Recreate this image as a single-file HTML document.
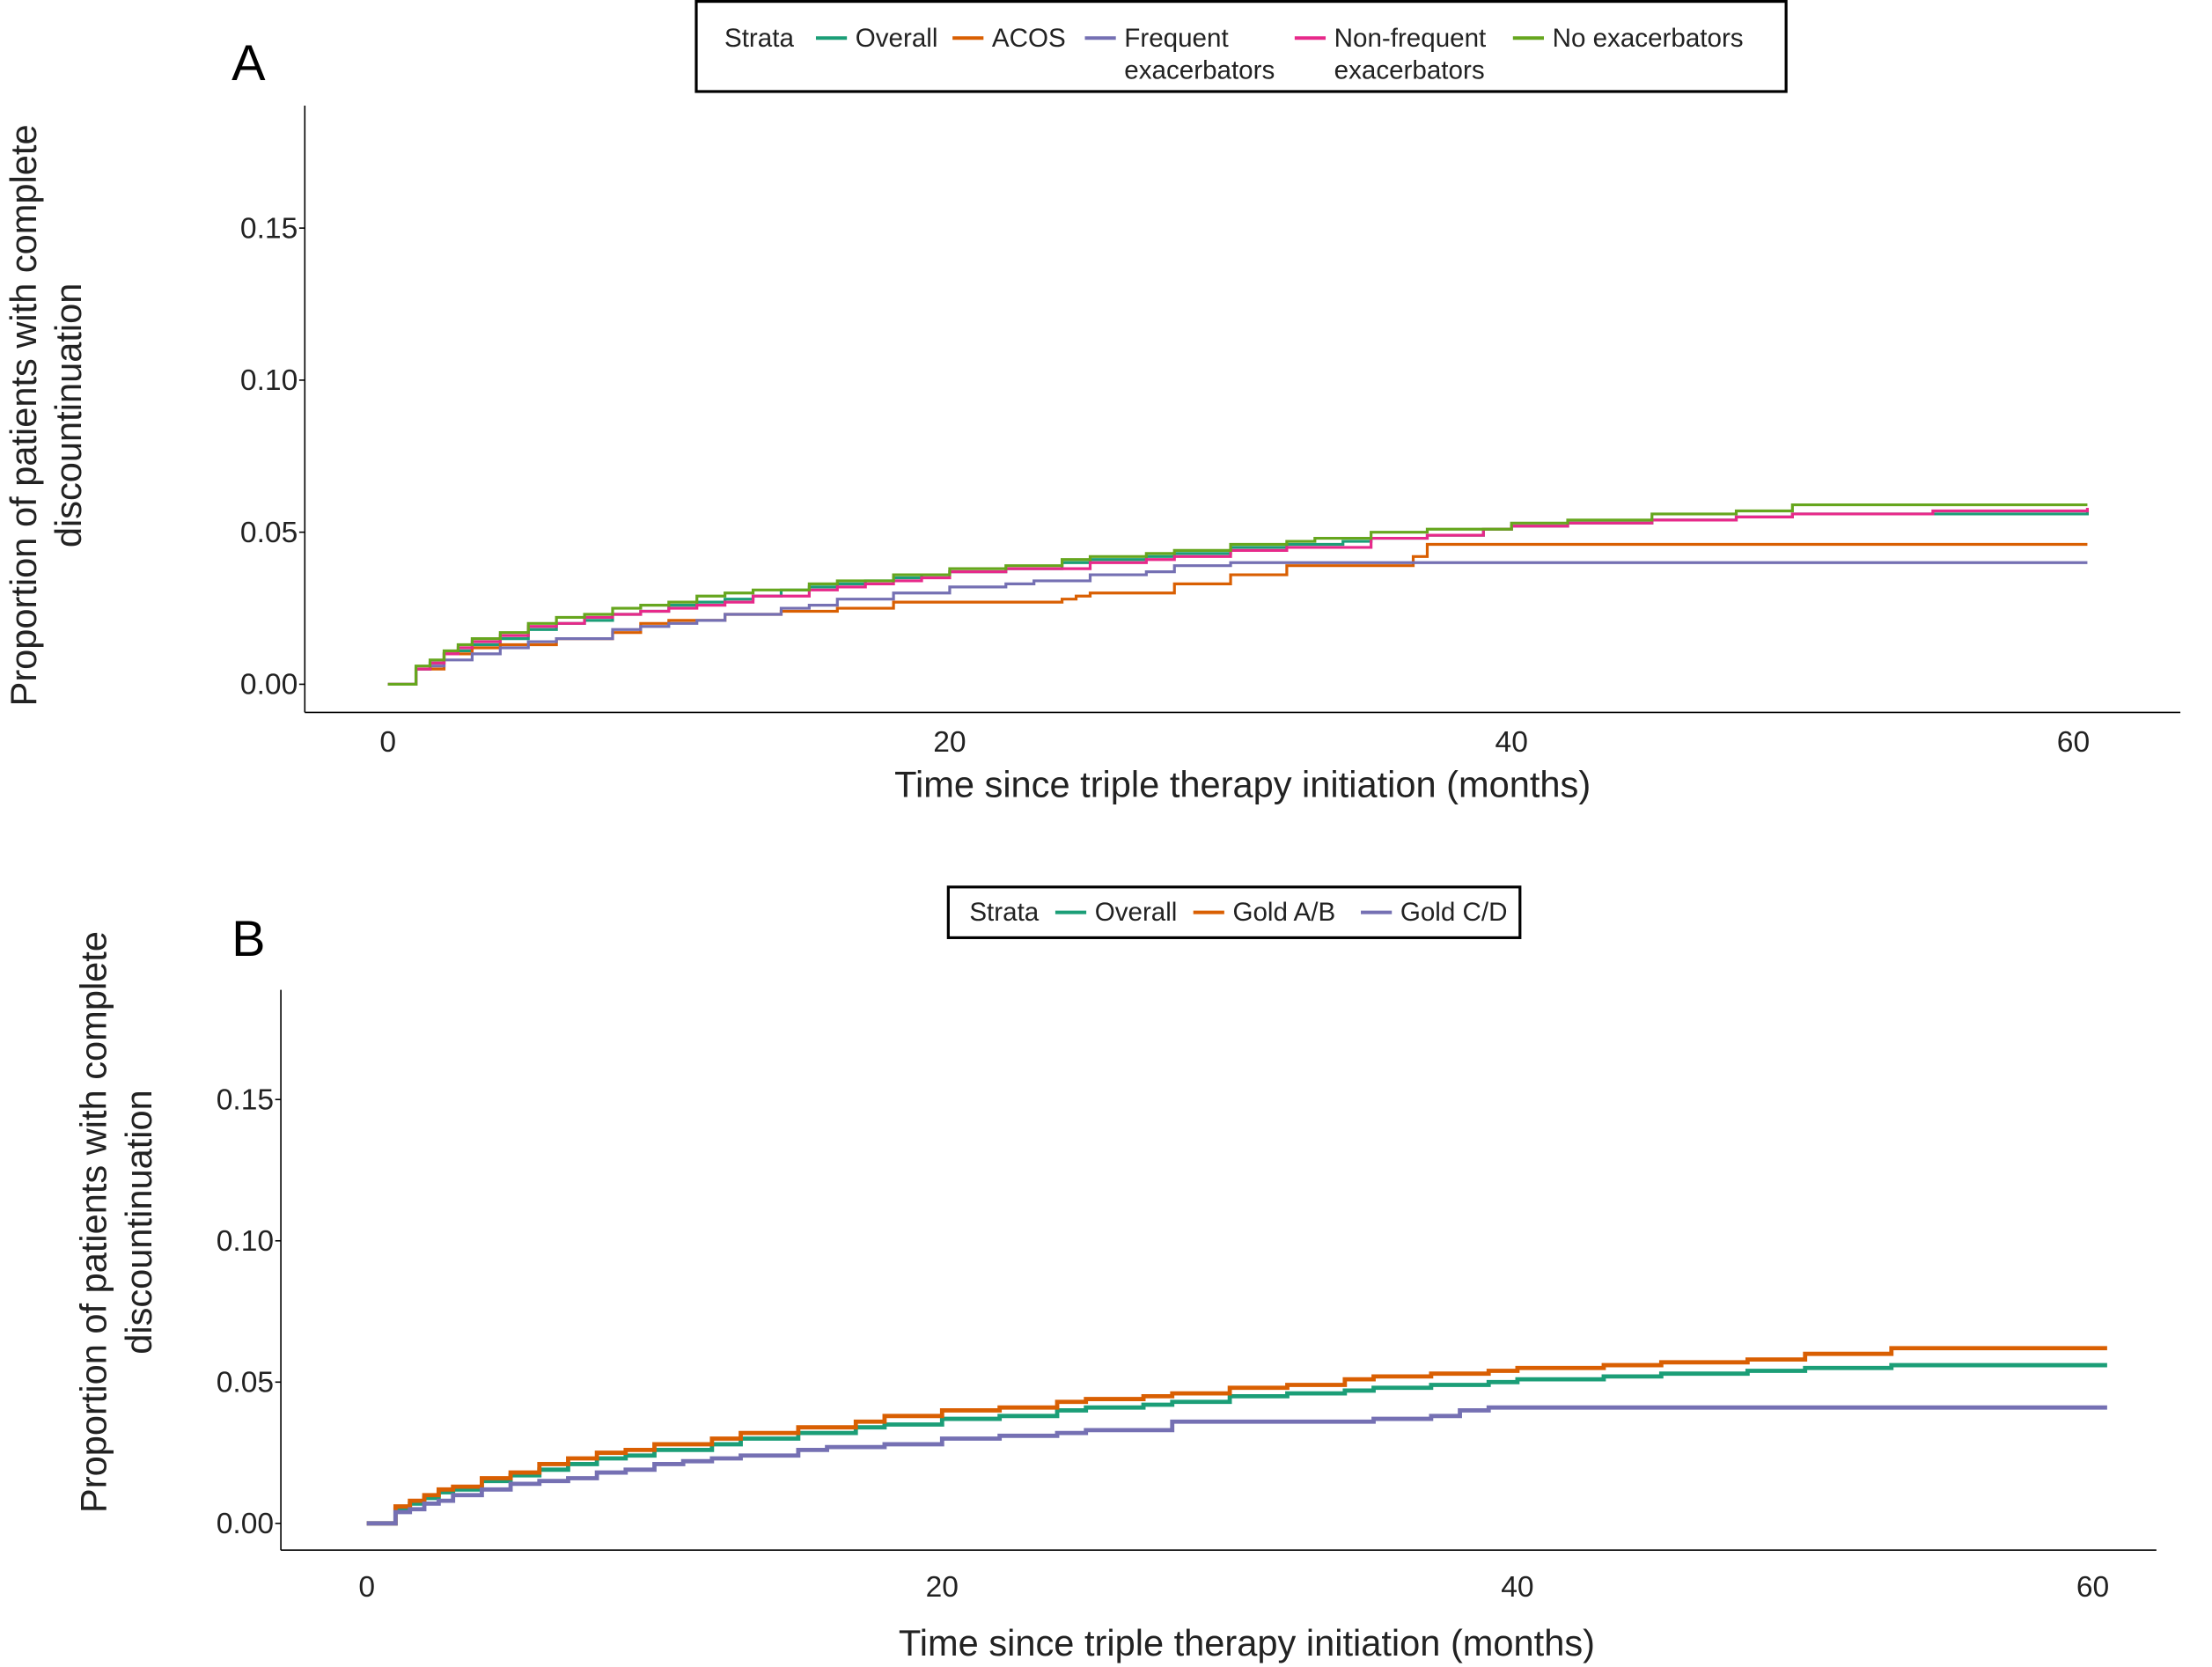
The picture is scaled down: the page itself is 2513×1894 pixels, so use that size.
<!DOCTYPE html>
<html><head><meta charset="utf-8"><style>
html,body{margin:0;padding:0;background:#fff;}
svg{display:block;font-family:"Liberation Sans",Arial,sans-serif;}
</style></head><body>
<svg id="chart" width="2513" height="1894" viewBox="0 0 1568 1184" xmlns="http://www.w3.org/2000/svg">
<rect width="1568" height="1184" fill="#fff"/>
<g id="pA"></g>
<g id="pB"></g>
</svg>
<script>
const xTicks=[0,20,40,60];
const yTicks=[0,0.05,0.10,0.15];
const yTickLabels=["0.00","0.05","0.10","0.15"];
// Panel A series: [time, proportion]
const aOverall=[[0,0],[1,0.005],[1.5,0.007],[2,0.010],[2.5,0.011],[3,0.013],[4,0.015],[5,0.018],[6,0.020],[7,0.021],[8,0.023],[9,0.024],[10,0.026],[11,0.027],[12,0.028],[13,0.029],[14,0.031],[15,0.032],[16,0.033],[17,0.034],[18,0.035],[19,0.036],[20,0.037],[22,0.038],[24,0.040],[25,0.041],[27,0.042],[28,0.043],[30,0.045],[32,0.046],[34,0.047],[35,0.048],[37,0.049],[39,0.051],[40,0.052],[42,0.053],[45,0.054],[48,0.055],[50,0.056],[60.5,0.057]];
const aACOS=[[0,0],[1,0.005],[2,0.010],[3,0.012],[4,0.013],[6,0.015],[8,0.017],[9,0.020],[10,0.021],[12,0.023],[14,0.024],[16,0.025],[18,0.027],[24,0.028],[24.5,0.029],[25,0.030],[28,0.033],[30,0.036],[32,0.039],[36,0.039],[36.5,0.042],[37,0.046],[60.5,0.046]];
const aFrequent=[[0,0],[1,0.005],[1.5,0.006],[2,0.008],[3,0.010],[4,0.012],[5,0.014],[6,0.015],[8,0.018],[9,0.019],[10,0.020],[11,0.021],[12,0.023],[14,0.025],[15,0.026],[16,0.028],[18,0.030],[20,0.032],[22,0.033],[23,0.034],[25,0.036],[27,0.037],[28,0.039],[30,0.040],[60.5,0.040]];
const aNonFrequent=[[0,0],[1,0.005],[1.5,0.007],[2,0.010],[2.5,0.012],[3,0.014],[4,0.016],[5,0.019],[6,0.020],[7,0.022],[8,0.023],[9,0.024],[10,0.025],[11,0.026],[12,0.027],[13,0.029],[15,0.031],[16,0.032],[17,0.033],[18,0.034],[19,0.035],[20,0.037],[22,0.038],[25,0.040],[27,0.041],[28,0.042],[30,0.044],[32,0.045],[35,0.048],[37,0.049],[39,0.051],[40,0.052],[42,0.053],[45,0.054],[48,0.055],[50,0.056],[55,0.057],[60.5,0.058]];
const aNoExac=[[0,0],[1,0.006],[1.5,0.008],[2,0.011],[2.5,0.013],[3,0.015],[4,0.017],[5,0.020],[6,0.022],[7,0.023],[8,0.025],[9,0.026],[10,0.027],[11,0.029],[12,0.030],[13,0.031],[15,0.033],[16,0.034],[18,0.036],[20,0.038],[22,0.039],[24,0.041],[25,0.042],[27,0.043],[28,0.044],[30,0.046],[32,0.047],[33,0.048],[35,0.050],[37,0.051],[40,0.053],[42,0.054],[45,0.056],[48,0.057],[50,0.059],[60.5,0.059]];
// Panel B series
const bOverall=[[0,0],[1,0.005],[1.5,0.007],[2,0.009],[2.5,0.011],[3,0.012],[4,0.015],[5,0.017],[6,0.019],[7,0.021],[8,0.023],[9,0.024],[10,0.026],[12,0.028],[13,0.030],[15,0.032],[17,0.034],[18,0.035],[20,0.037],[22,0.038],[24,0.040],[25,0.041],[27,0.042],[28,0.043],[30,0.045],[32,0.046],[34,0.047],[35,0.048],[37,0.049],[39,0.050],[40,0.051],[43,0.052],[45,0.053],[48,0.054],[50,0.055],[53,0.056],[60.5,0.056]];
const bGoldAB=[[0,0],[1,0.006],[1.5,0.008],[2,0.010],[2.5,0.012],[3,0.013],[4,0.016],[5,0.018],[6,0.021],[7,0.023],[8,0.025],[9,0.026],[10,0.028],[12,0.030],[13,0.032],[15,0.034],[17,0.036],[18,0.038],[20,0.040],[22,0.041],[24,0.043],[25,0.044],[27,0.045],[28,0.046],[30,0.048],[32,0.049],[34,0.051],[35,0.052],[37,0.053],[39,0.054],[40,0.055],[43,0.056],[45,0.057],[48,0.058],[50,0.060],[53,0.062],[60.5,0.062]];
const bGoldCD=[[0,0],[1,0.004],[1.5,0.005],[2,0.007],[2.5,0.008],[3,0.010],[4,0.012],[5,0.014],[6,0.015],[7,0.016],[8,0.018],[9,0.019],[10,0.021],[11,0.022],[12,0.023],[13,0.024],[15,0.026],[16,0.027],[18,0.028],[20,0.030],[22,0.031],[24,0.032],[25,0.033],[28,0.036],[33,0.036],[35,0.037],[37,0.038],[38,0.040],[39,0.041],[60.5,0.041]];

const NS="http://www.w3.org/2000/svg";
function mk(parent,tag,attrs,text){const e=document.createElementNS(NS,tag);for(const k in attrs)e.setAttribute(k,attrs[k]);if(text!==undefined)e.textContent=text;parent.appendChild(e);return e;}

function panel(g,cfg){
  const X=t=>cfg.x0+t*cfg.xs, Y=v=>cfg.y0-v*cfg.ys;
  let e=mk(g,'line',{x1:cfg.axL,y1:cfg.axB,x2:cfg.axR,y2:cfg.axB,stroke:'#000','stroke-width':1});
  
  
  e=mk(g,'line',{x1:cfg.axL,y1:cfg.axT,x2:cfg.axL,y2:cfg.axB,stroke:'#000','stroke-width':1});
  
  
  xTicks.forEach(t=>{
    e=mk(g,'text',{x:X(t),y:cfg.xLabY,'font-size':21,'text-anchor':'middle',fill:'#222'},String(t));
    
    
  });
  yTicks.forEach((v,i)=>{
    mk(g,'line',{x1:cfg.axL-4,y1:Y(v),x2:cfg.axL,y2:Y(v),stroke:'#000'});
    e=mk(g,'text',{x:cfg.axL-5,y:Y(v)+7,'font-size':21,'text-anchor':'end',fill:'#222'},yTickLabels[i]);
    
    
  });
  cfg.series.forEach(s=>{
    let d='';s.data.forEach((p,i)=>{if(i===0)d+='M'+X(p[0])+','+Y(p[1]);else d+='H'+X(p[0])+'V'+Y(p[1]);});
    e=mk(g,'path',{d:d,fill:'none',stroke:s.color,'stroke-width':cfg.sw});
    
    
  });
  e=mk(g,'text',{x:cfg.xTitleX,y:cfg.xTitleY,'font-size':26,'text-anchor':'middle',fill:'#222'},'Time since triple therapy initiation (months)');
  
  
  const yt=mk(g,'text',{transform:'translate('+cfg.yTitleX+','+cfg.yTitleY+') rotate(-90)','font-size':26,'text-anchor':'middle',fill:'#222'});
  
  
  mk(yt,'tspan',{x:0,dy:0},'Proportion of patients with complete');
  mk(yt,'tspan',{x:0,dy:32},'discountinuation');
  e=mk(g,'text',{x:cfg.letX,y:cfg.letY,'font-size':36,fill:'#000'},cfg.letter);
  
  
  const L=cfg.legend;
  const lg=mk(g,'g',{});
  
  
  mk(lg,'rect',{x:L.x,y:L.y,width:L.w,height:L.h,fill:'#fff',stroke:'#000','stroke-width':2});
  mk(lg,'text',{x:L.titleX,y:L.ty,'font-size':18.5,fill:'#222'},'Strata');
  L.items.forEach((it,i)=>{
    const s=cfg.series[i];
    const en=mk(lg,'g',{});
    
    
    mk(en,'line',{x1:it.x,y1:L.ty-6,x2:it.x+22,y2:L.ty-6,stroke:s.color,'stroke-width':2.5});
    it.lines.forEach((ln,j)=>mk(en,'text',{x:it.x+28,y:L.ty+j*23,'font-size':18.5,fill:'#222'},ln));
  });
}
panel(document.getElementById('pA'),{x0:274,xs:19.95,y0:486,ys:2160,axL:215,axR:1547,axT:75,axB:506,xLabY:534,sw:2,
  xTitleX:881,xTitleY:566,yTitleX:24,yTitleY:295,letX:163,letY:57,letter:'A',
  series:[{name:'overall-line',color:'#1b9e77',data:aOverall},{name:'acos-line',color:'#d95f02',data:aACOS},{name:'frequent-exacerbators-line',color:'#7570b3',data:aFrequent},{name:'non-frequent-exacerbators-line',color:'#e7298a',data:aNonFrequent},{name:'no-exacerbators-line',color:'#66a61e',data:aNoExac}],
  legend:{x:493,y:1,w:774,h:64,ty:33,titleX:513,items:[{x:578,lines:['Overall']},{x:675,lines:['ACOS']},{x:769,lines:['Frequent','exacerbators']},{x:918,lines:['Non-frequent','exacerbators']},{x:1073,lines:['No exacerbators']}]}});
panel(document.getElementById('pB'),{x0:259,xs:20.43,y0:1082,ys:2007,axL:198,axR:1530,axT:703,axB:1101,xLabY:1134,sw:3,
  xTitleX:884,xTitleY:1176,yTitleX:74,yTitleY:868,letX:163,letY:679,letter:'B',
  series:[{name:'overall-line',color:'#1b9e77',data:bOverall},{name:'gold-ab-line',color:'#d95f02',data:bGoldAB},{name:'gold-cd-line',color:'#7570b3',data:bGoldCD}],
  legend:{x:672,y:630,w:406,h:36,ty:654,titleX:687,items:[{x:748,lines:['Overall']},{x:846,lines:['Gold A/B']},{x:965,lines:['Gold C/D']}]}});
</script>
</body></html>
